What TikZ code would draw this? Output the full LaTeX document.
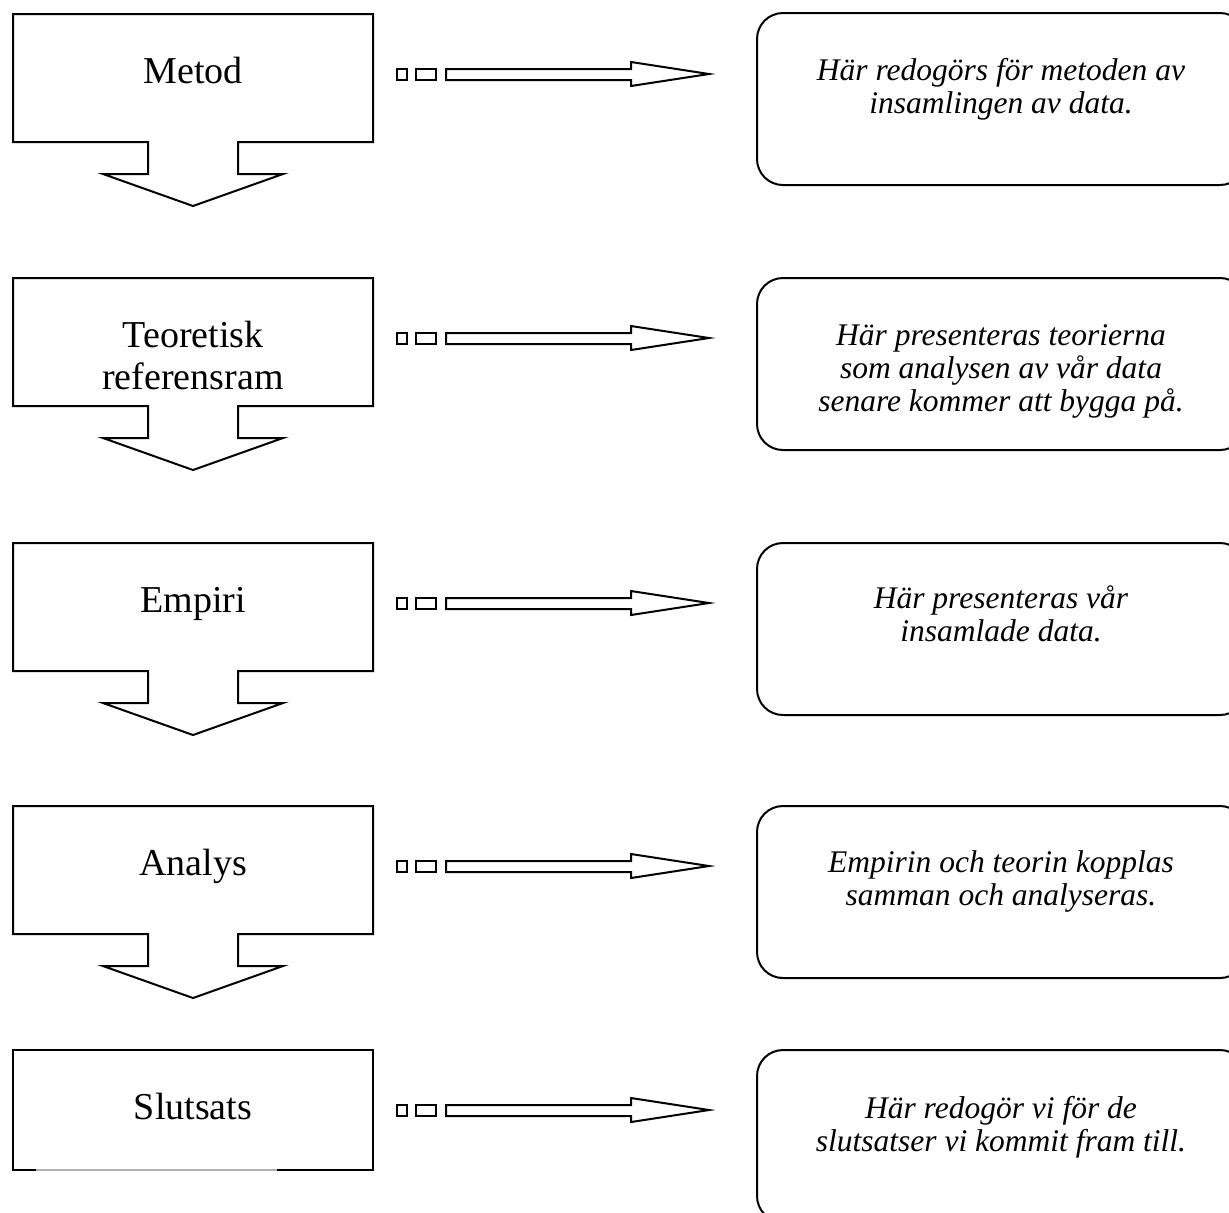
\documentclass[tikz,border=0pt]{standalone}
\usepackage{fontspec}
\setmainfont{Liberation Serif}
\usepackage{tikz}

\begin{document}
\begin{tikzpicture}[x=0.5pt, y=-0.5pt,
    flow/.style={line width=1pt, line join=miter},
    notebox/.style={line width=1pt, rounded corners=13pt},
    titletext/.style={font=\fontsize{19}{21}\selectfont, align=center, inner sep=0pt},
    notetext/.style={font=\fontsize{15.75}{16.5}\selectfont\itshape, align=center, inner sep=0pt, anchor=north}]
    \useasboundingbox (0,0) rectangle (1229,1212);
    \clip (0,0) rectangle (1229,1212);

    % Metod
    \begin{scope}[shift={(0,14)}]
        \draw[flow] (13,0) -- (373,0) -- (373,128) -- (238,128) -- (238,160) -- (283,160) -- (193,192) -- (103,160) -- (148,160) -- (148,128) -- (13,128) -- cycle;
        \node[titletext, anchor=base] (metod) at (193,69) {Metod};
        \draw[flow] (397,55) rectangle (407,66);
        \draw[flow] (416,55) rectangle (436,66);
        \draw[flow] (446,55) -- (631,55) -- (631,48) -- (709,60) -- (631,72) -- (631,66) -- (446,66) -- cycle;
        \draw[notebox] (757,-1) rectangle (1246,171);
        \node[notetext] (metodnote) at (1001,44) {Här redogörs för metoden av\\insamlingen av data.};
    \end{scope}

    % Teoretisk referensram
    \begin{scope}[shift={(0,278)}]
        \draw[flow] (13,0) -- (373,0) -- (373,128) -- (238,128) -- (238,160) -- (283,160) -- (193,192) -- (103,160) -- (148,160) -- (148,128) -- (13,128) -- cycle;
        \node[titletext, anchor=north] (teori) at (193,43) {Teoretisk\\referensram};
        \draw[flow] (397,55) rectangle (407,66);
        \draw[flow] (416,55) rectangle (436,66);
        \draw[flow] (446,55) -- (631,55) -- (631,48) -- (709,60) -- (631,72) -- (631,66) -- (446,66) -- cycle;
        \draw[notebox] (757,0) rectangle (1246,172);
        \node[notetext] (teorinote) at (1001,46) {Här presenteras teorierna\\som analysen av vår data\\senare kommer att bygga på.};
    \end{scope}

    % Empiri
    \begin{scope}[shift={(0,543)}]
        \draw[flow] (13,0) -- (373,0) -- (373,128) -- (238,128) -- (238,160) -- (283,160) -- (193,192) -- (103,160) -- (148,160) -- (148,128) -- (13,128) -- cycle;
        \node[titletext, anchor=base] (empiri) at (193,69) {Empiri};
        \draw[flow] (397,55) rectangle (407,66);
        \draw[flow] (416,55) rectangle (436,66);
        \draw[flow] (446,55) -- (631,55) -- (631,48) -- (709,60) -- (631,72) -- (631,66) -- (446,66) -- cycle;
        \draw[notebox] (757,0) rectangle (1246,172);
        \node[notetext] (empirinote) at (1001,42) {Här presenteras vår\\insamlade data.};
    \end{scope}

    % Analys
    \begin{scope}[shift={(0,806)}]
        \draw[flow] (13,0) -- (373,0) -- (373,128) -- (238,128) -- (238,160) -- (283,160) -- (193,192) -- (103,160) -- (148,160) -- (148,128) -- (13,128) -- cycle;
        \node[titletext, anchor=base] (analys) at (193,69) {Analys};
        \draw[flow] (397,55) rectangle (407,66);
        \draw[flow] (416,55) rectangle (436,66);
        \draw[flow] (446,55) -- (631,55) -- (631,48) -- (709,60) -- (631,72) -- (631,66) -- (446,66) -- cycle;
        \draw[notebox] (757,0) rectangle (1246,172);
        \node[notetext] (analysnote) at (1001,44) {Empirin och teorin kopplas\\samman och analyseras.};
    \end{scope}

    % Slutsats
    \begin{scope}[shift={(0,1050)}]
        \draw[flow] (36,120) -- (13,120) -- (13,0) -- (373,0) -- (373,120) -- (277,120);
        \draw[gray!60, line width=0.6pt] (36,120) -- (277,120);
        \node[titletext, anchor=base] (slutsats) at (193,69) {Slutsats};
        \draw[flow] (397,55) rectangle (407,66);
        \draw[flow] (416,55) rectangle (436,66);
        \draw[flow] (446,55) -- (631,55) -- (631,48) -- (709,60) -- (631,72) -- (631,66) -- (446,66) -- cycle;
        \draw[notebox] (757,0) rectangle (1246,172);
        \node[notetext] (slutsatsnote) at (1001,46) {Här redogör vi för de\\slutsatser vi kommit fram till.};
    \end{scope}

\end{tikzpicture}
\end{document}
